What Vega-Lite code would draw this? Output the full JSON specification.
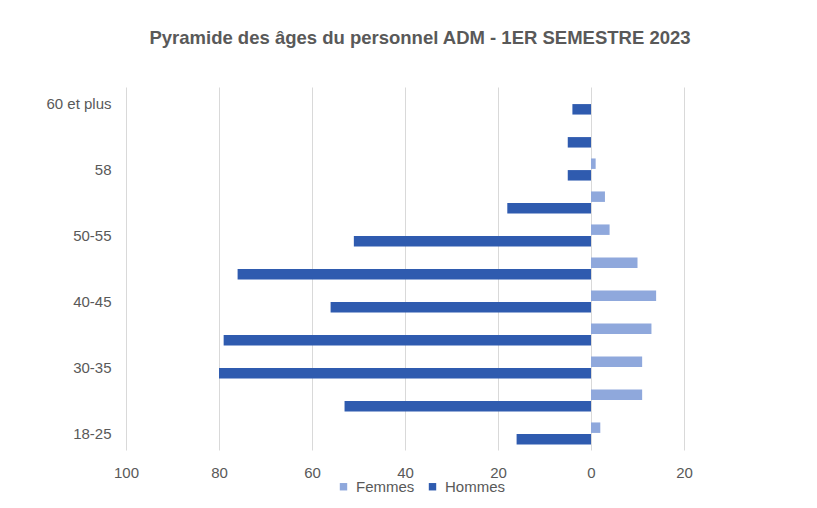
{
  "$schema": "https://vega.github.io/schema/vega-lite/v6.json",
  "autosize": {"type": "none"},
  "padding": {"left": 126, "top": 87, "right": 133, "bottom": 58},
  "width": 558,
  "height": 363,
  "background": "white",
  "title": {
    "text": "Pyramide des âges du personnel ADM - 1ER SEMESTRE 2023",
    "font": "Liberation Sans",
    "fontSize": 18.5,
    "fontWeight": "bold",
    "color": "#595959",
    "anchor": "middle",
    "dx": 15,
    "offset": 40
  },
  "data": {
    "values": [
      {"age": "60 et plus", "sexe": "Hommes", "valeur": -4},
      {"age": "60 et plus", "sexe": "Femmes", "valeur": 0},
      {"age": "59", "sexe": "Hommes", "valeur": -5},
      {"age": "59", "sexe": "Femmes", "valeur": 0},
      {"age": "58", "sexe": "Hommes", "valeur": -5},
      {"age": "58", "sexe": "Femmes", "valeur": 1},
      {"age": "55-57", "sexe": "Hommes", "valeur": -18},
      {"age": "55-57", "sexe": "Femmes", "valeur": 3},
      {"age": "50-55", "sexe": "Hommes", "valeur": -51},
      {"age": "50-55", "sexe": "Femmes", "valeur": 4},
      {"age": "45-50", "sexe": "Hommes", "valeur": -76},
      {"age": "45-50", "sexe": "Femmes", "valeur": 10},
      {"age": "40-45", "sexe": "Hommes", "valeur": -56},
      {"age": "40-45", "sexe": "Femmes", "valeur": 14},
      {"age": "35-40", "sexe": "Hommes", "valeur": -79},
      {"age": "35-40", "sexe": "Femmes", "valeur": 13},
      {"age": "30-35", "sexe": "Hommes", "valeur": -80},
      {"age": "30-35", "sexe": "Femmes", "valeur": 11},
      {"age": "25-30", "sexe": "Hommes", "valeur": -53},
      {"age": "25-30", "sexe": "Femmes", "valeur": 11},
      {"age": "18-25", "sexe": "Hommes", "valeur": -16},
      {"age": "18-25", "sexe": "Femmes", "valeur": 2}
    ]
  },
  "mark": {"type": "bar"},
  "encoding": {
    "y": {
      "field": "age",
      "type": "nominal",
      "sort": ["60 et plus", "59", "58", "55-57", "50-55", "45-50", "40-45", "35-40", "30-35", "25-30", "18-25"],
      "scale": {"paddingInner": 0.33, "paddingOuter": 0.165},
      "axis": {
        "title": null,
        "values": ["60 et plus", "58", "50-55", "40-45", "30-35", "18-25"],
        "domain": false,
        "ticks": false,
        "labelPadding": 15,
        "labelFont": "Liberation Sans",
        "labelFontSize": 15,
        "labelColor": "#595959",
        "grid": false
      }
    },
    "yOffset": {
      "field": "sexe",
      "type": "nominal",
      "sort": ["Femmes", "Hommes"],
      "scale": {"paddingInner": 0.1}
    },
    "x": {
      "field": "valeur",
      "type": "quantitative",
      "scale": {"domain": [-100, 20], "nice": false},
      "axis": {
        "title": null,
        "values": [-100, -80, -60, -40, -20, 0, 20],
        "labelExpr": "abs(datum.value)",
        "labelFlush": false,
        "domain": false,
        "ticks": false,
        "labelPadding": 15,
        "labelFont": "Liberation Sans",
        "labelFontSize": 15,
        "labelColor": "#595959",
        "grid": true,
        "gridColor": "#D9D9D9",
        "gridWidth": 1
      }
    },
    "color": {
      "field": "sexe",
      "type": "nominal",
      "scale": {"domain": ["Femmes", "Hommes"], "range": ["#8FA8DC", "#2F5BAF"]},
      "legend": {
        "title": null,
        "orient": "none",
        "direction": "horizontal",
        "legendX": 210,
        "legendY": 392,
        "symbolType": "square",
        "symbolSize": 55,
        "symbolStrokeWidth": 0,
        "labelFont": "Liberation Sans",
        "labelFontSize": 15,
        "labelColor": "#595959",
        "columnPadding": 10,
        "labelOffset": 5
      }
    }
  },
  "config": {"view": {"stroke": null}}
}
